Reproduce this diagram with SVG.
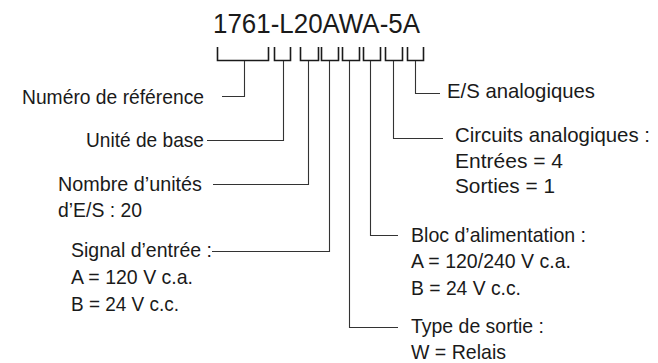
<svg xmlns="http://www.w3.org/2000/svg" width="658" height="363" viewBox="0 0 658 363">
<style>
text{font-family:"Liberation Sans",Arial,sans-serif;fill:#1a1a1a;font-size:21px}
.title{font-size:28px}
.br{fill:none;stroke:#1a1a1a;stroke-width:1.6}
.ln{fill:none;stroke:#333;stroke-width:1.1}
</style>
<rect width="658" height="363" fill="#fff"/>
<g id="title">
<text class="title" x="213" y="33" textLength="207" lengthAdjust="spacingAndGlyphs">1761-L20AWA-5A</text>
</g>
<g id="brackets">
<path class="br" d="M217.5 47V60.5H268.5V47"/>
<path class="br" d="M274.5 47V60.5H290.5V47"/>
<path class="br" d="M300.5 47V60.5H318.5V47"/>
<path class="br" d="M321.5 47V60.5H338.5V47"/>
<path class="br" d="M342.5 47V60.5H359.5V47"/>
<path class="br" d="M363.5 47V60.5H380.5V47"/>
<path class="br" d="M385.5 47V60.5H402.5V47"/>
<path class="br" d="M407.5 47V60.5H423.5V47"/>
</g>
<g id="connectors">
<path class="ln" d="M244.5 61V96.5H222"/>
<path class="ln" d="M283.5 61V140.5H207"/>
<path class="ln" d="M308.5 61V184.5H213"/>
<path class="ln" d="M329.5 61V251.5H212"/>
<path class="ln" d="M349.5 61V327.5H398"/>
<path class="ln" d="M370.5 61V235.5H398"/>
<path class="ln" d="M393.5 61V138.5H443"/>
<path class="ln" d="M415.5 61V93.5H440"/>
</g>
<g id="ref"><text x="22" y="104" textLength="182" lengthAdjust="spacingAndGlyphs">Numéro de référence</text></g>
<g id="base"><text x="86" y="147" textLength="118" lengthAdjust="spacingAndGlyphs">Unité de base</text></g>
<g id="es">
<text x="58" y="191" textLength="144" lengthAdjust="spacingAndGlyphs">Nombre d’unités</text>
<text x="58" y="217" textLength="84" lengthAdjust="spacingAndGlyphs">d’E/S : 20</text>
</g>
<g id="signal">
<text x="71" y="257" textLength="141" lengthAdjust="spacingAndGlyphs">Signal d’entrée :</text>
<text x="71" y="284" textLength="122" lengthAdjust="spacingAndGlyphs">A = 120 V c.a.</text>
<text x="71" y="311" textLength="108" lengthAdjust="spacingAndGlyphs">B = 24 V c.c.</text>
</g>
<g id="esana"><text x="447" y="98" textLength="148" lengthAdjust="spacingAndGlyphs">E/S analogiques</text></g>
<g id="circuits">
<text x="455" y="142" textLength="195" lengthAdjust="spacingAndGlyphs">Circuits analogiques :</text>
<text x="455" y="168" textLength="108" lengthAdjust="spacingAndGlyphs">Entrées = 4</text>
<text x="455" y="193" textLength="100" lengthAdjust="spacingAndGlyphs">Sorties = 1</text>
</g>
<g id="bloc">
<text x="411" y="242" textLength="175" lengthAdjust="spacingAndGlyphs">Bloc d’alimentation :</text>
<text x="411" y="268" textLength="160" lengthAdjust="spacingAndGlyphs">A = 120/240 V c.a.</text>
<text x="411" y="295" textLength="110" lengthAdjust="spacingAndGlyphs">B = 24 V c.c.</text>
</g>
<g id="sortie">
<text x="411" y="333" textLength="133" lengthAdjust="spacingAndGlyphs">Type de sortie :</text>
<text x="411" y="359" textLength="95" lengthAdjust="spacingAndGlyphs">W = Relais</text>
</g>
</svg>
